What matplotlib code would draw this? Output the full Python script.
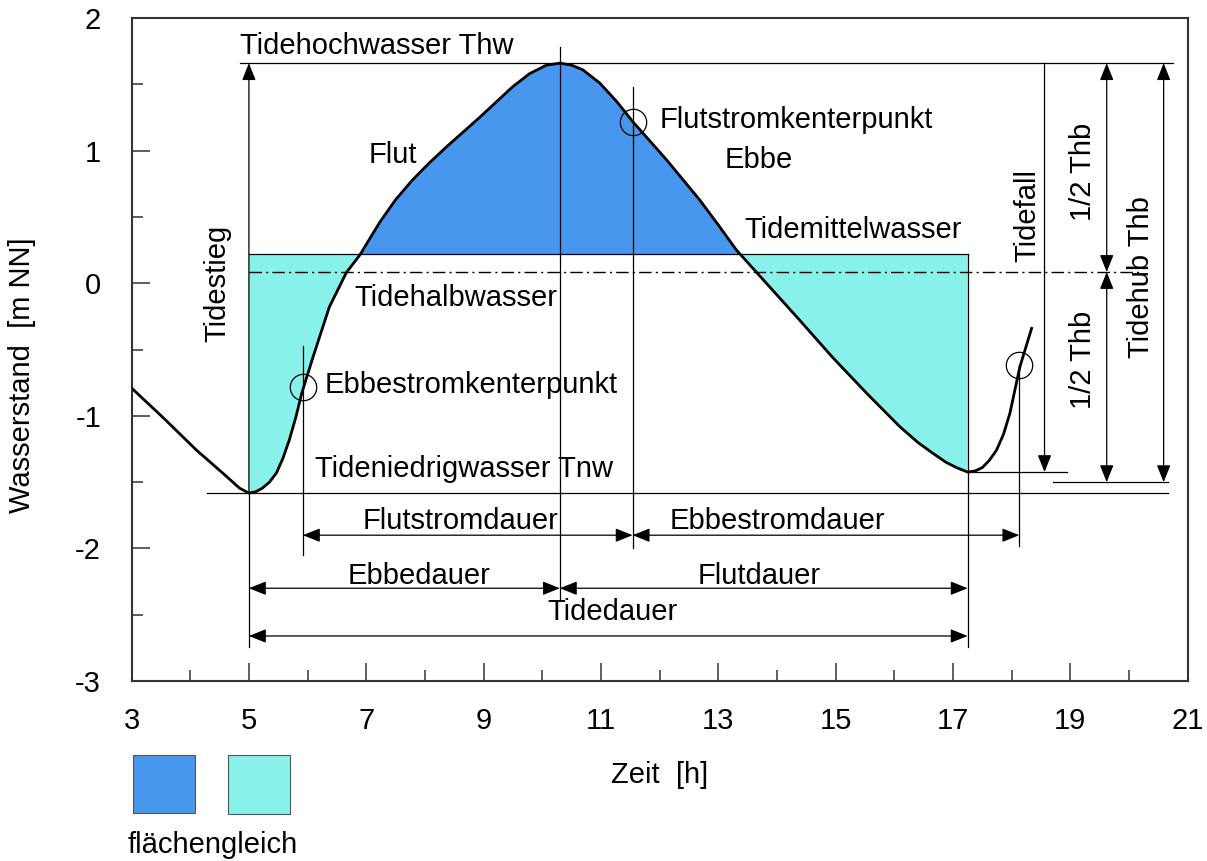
import matplotlib
matplotlib.use("Agg")
import numpy as np
from matplotlib import pyplot as plt
from matplotlib.patches import Rectangle

plt.rcParams['font.family'] = ['Liberation Sans', 'DejaVu Sans']
plt.rcParams['axes.unicode_minus'] = False

# water level curve (hours, m NN)
hours = [3.0, 3.53, 4.11, 4.55, 4.84, 5.0, 5.12, 5.23, 5.35, 5.47, 5.58, 5.69, 5.80, 5.90,
         6.09, 6.37, 6.66, 6.89, 7.23, 7.50, 7.79, 8.08, 8.37, 8.65, 8.93, 9.21, 9.49,
         9.78, 10.07, 10.30, 10.50, 10.69, 10.98, 11.27, 11.54, 11.83, 12.12, 12.40,
         12.68, 13.00, 13.31, 13.82, 14.39, 14.95, 15.53, 16.09, 16.40, 16.65, 16.88,
         17.06, 17.25, 17.38, 17.50, 17.62, 17.74, 17.86, 17.97, 18.14, 18.34]
level = [-0.79, -1.01, -1.26, -1.43, -1.545, -1.582, -1.572, -1.545, -1.50, -1.43, -1.32,
         -1.18, -1.01, -0.83, -0.56, -0.18, 0.08, 0.213, 0.46, 0.63, 0.78, 0.91, 1.03,
         1.14, 1.25, 1.365, 1.48, 1.58, 1.645, 1.66, 1.645, 1.61, 1.51, 1.37, 1.22, 1.075,
         0.93, 0.78, 0.63, 0.44, 0.25, 0.0, -0.28, -0.56, -0.83, -1.08, -1.20, -1.28,
         -1.35, -1.39, -1.424, -1.415, -1.39, -1.335, -1.26, -1.14, -0.98, -0.63, -0.34]

thw = 1.66          # Tidehochwasser
tnw1 = -1.582       # Tideniedrigwasser (first low)
tnw2 = -1.424       # second low
tnw_mean = -1.50
tmw = 0.22          # Tidemittelwasser
thalb = 0.085       # Tidehalbwasser
t_low1, t_high, t_low2 = 5.0, 10.30, 17.25
t_ebb_kenter, t_flut_kenter, t_ebb_kenter2 = 5.92, 11.54, 18.13
kenter_levels = [-0.78, 1.22, -0.62]

dark = '#4897ef'
light = '#88f1e9'

fig = plt.figure(figsize=(12.07, 8.61), dpi=100)
ax = fig.add_axes([0.109, 0.209, 0.875, 0.770])

h = np.array(hours)
w = np.array(level)
inside = (h >= t_low1) & (h <= t_low2)
hi, wi = h[inside], w[inside]
ax.fill_between(hi, wi, tmw, where=wi >= tmw, interpolate=True, color=dark, lw=0)
ax.fill_between(hi, wi, tmw, where=wi <= tmw, interpolate=True, color=light, lw=0)
ax.plot(h, w, color='black', lw=2.0, zorder=5)

thin = dict(color='black', lw=0.9)
ax.plot([t_low1, t_low2], [tmw, tmw], **thin)
ax.plot([t_low2, t_low2], [tmw, -2.74], **thin)
ax.plot([t_low1, t_low1], [tnw1, -2.74], **thin)
ax.plot([t_high, t_high], [1.78, -2.39], **thin)
ax.plot([t_ebb_kenter, t_ebb_kenter], [-0.47, -2.05], **thin)
ax.plot([t_flut_kenter, t_flut_kenter], [1.48, -2.0], **thin)
ax.plot([t_ebb_kenter2, t_ebb_kenter2], [-0.62, -1.98], **thin)

ax.plot([4.84, 20.75], [thw, thw], **thin)
ax.plot([4.28, 20.66], [tnw1, tnw1], **thin)
ax.plot([t_low2, 18.95], [tnw2, tnw2], **thin)
ax.plot([18.70, 20.66], [tnw_mean, tnw_mean], **thin)
ax.plot([t_low1, 20.2], [thalb, thalb], color='black', lw=1.0, dashes=(9, 3, 1.5, 3))

ax.plot([t_ebb_kenter, t_flut_kenter, t_ebb_kenter2], kenter_levels, 'o', ms=19,
        mfc='none', mec='black', mew=0.9, zorder=6)


def arrow(x0, y0, x1, y1, style='<|-|>'):
    ax.annotate('', xy=(x1, y1), xytext=(x0, y0),
                arrowprops=dict(arrowstyle=style + ',head_length=0.75,head_width=0.3',
                                mutation_scale=14, color='black', lw=0.9,
                                shrinkA=0, shrinkB=0))


arrow(t_low1, tnw1, t_low1, thw, '-|>')
arrow(18.56, thw, 18.56, tnw2, '-|>')
arrow(19.62, thw, 19.62, thalb)
arrow(19.62, thalb, 19.62, tnw_mean)
arrow(20.59, thw, 20.59, tnw_mean)
arrow(t_ebb_kenter, -1.90, t_flut_kenter, -1.90)
arrow(t_flut_kenter, -1.90, t_ebb_kenter2, -1.90)
arrow(t_low1, -2.30, t_high, -2.30)
arrow(t_high, -2.30, t_low2, -2.30)
arrow(t_low1, -2.66, t_low2, -2.66)

fs = 21
ax.text(4.85, 1.79, 'Tidehochwasser Thw', fontsize=fs, va='center')
ax.text(7.45, 0.97, 'Flut', fontsize=fs, ha='center', va='center')
ax.text(12.0, 1.23, 'Flutstromkenterpunkt', fontsize=fs, va='center')
ax.text(13.1, 0.93, 'Ebbe', fontsize=fs, va='center')
ax.text(13.45, 0.40, 'Tidemittelwasser', fontsize=fs, va='center')
ax.text(6.8, -0.11, 'Tidehalbwasser', fontsize=fs, va='center')
ax.text(6.29, -0.77, 'Ebbestromkenterpunkt', fontsize=fs, va='center')
ax.text(6.12, -1.40, 'Tideniedrigwasser Tnw', fontsize=fs, va='center')
ax.text(8.6, -1.79, 'Flutstromdauer', fontsize=fs, ha='center', va='center')
ax.text(14.0, -1.79, 'Ebbestromdauer', fontsize=fs, ha='center', va='center')
ax.text(7.9, -2.21, 'Ebbedauer', fontsize=fs, ha='center', va='center')
ax.text(13.7, -2.21, 'Flutdauer', fontsize=fs, ha='center', va='center')
ax.text(11.2, -2.48, 'Tidedauer', fontsize=fs, ha='center', va='center')
ax.text(4.47, 0.0, 'Tidestieg', fontsize=fs, rotation=90, ha='center', va='center')
ax.text(18.26, 0.51, 'Tidefall', fontsize=fs, rotation=90, ha='center', va='center')
ax.text(19.21, 0.84, '1/2 Thb', fontsize=fs, rotation=90, ha='center', va='center')
ax.text(19.21, -0.58, '1/2 Thb', fontsize=fs, rotation=90, ha='center', va='center')
ax.text(20.21, 0.05, 'Tidehub Thb', fontsize=fs, rotation=90, ha='center', va='center')

ax.set_xlim(3, 21)
ax.set_ylim(-3, 2)
ax.set_xticks([3, 5, 7, 9, 11, 13, 15, 17, 19, 21])
ax.set_xticks([4, 6, 8, 10, 12, 14, 16, 18, 20], minor=True)
ax.set_yticks([-3, -2, -1, 0, 1, 2])
ax.set_yticks([-2.5, -1.5, -0.5, 0.5, 1.5], minor=True)
ax.tick_params(which='both', direction='in', width=1.1, color='#333333', labelsize=fs)
ax.tick_params(which='major', length=13)
ax.tick_params(which='minor', length=8)
ax.tick_params(axis='x', pad=19)
ax.tick_params(axis='y', pad=22)
for s in ax.spines.values():
    s.set_linewidth(1.5)
    s.set_color('#333333')

fig.text(660 / 1207, 1 - 775 / 861, 'Zeit  [h]', fontsize=fs, ha='center', va='center')
fig.text(22 / 1207, 1 - 375 / 861, 'Wasserstand  [m NN]', fontsize=fs, rotation=90,
         ha='center', va='center')

fig.add_artist(Rectangle((133 / 1207, 1 - 813 / 861), 62 / 1207, 58 / 861,
                         transform=fig.transFigure, facecolor=dark, edgecolor='#555555', lw=0.8))
fig.add_artist(Rectangle((228 / 1207, 1 - 814 / 861), 62 / 1207, 59 / 861,
                         transform=fig.transFigure, facecolor=light, edgecolor='#555555', lw=0.8))
fig.text(128 / 1207, 1 - 845 / 861, 'flächengleich', fontsize=fs, va='center')

fig.savefig('out.png', dpi=100)
